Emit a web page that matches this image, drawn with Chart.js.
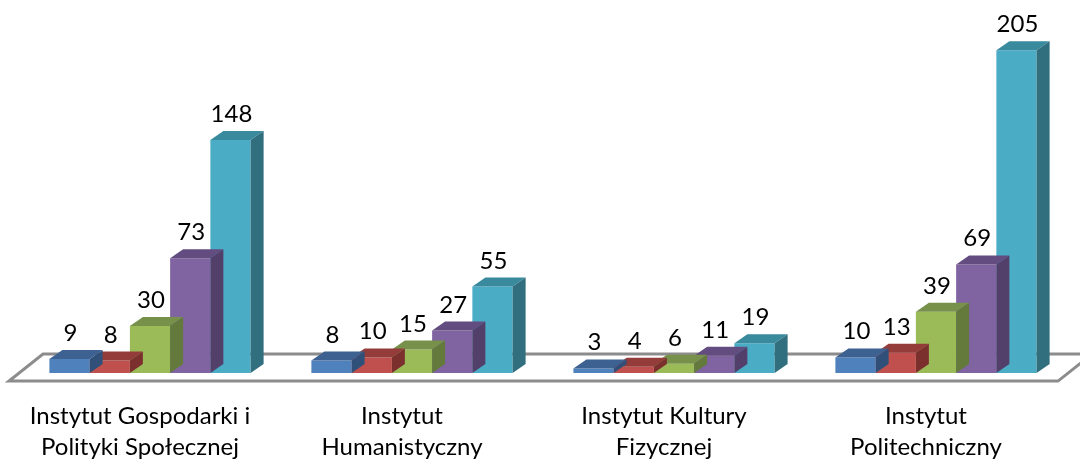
<!DOCTYPE html>
<html>
<head>
<meta charset="utf-8">
<script src="https://cdn.jsdelivr.net/npm/chart.js@4/dist/chart.umd.min.js"></script>
<style>
  html, body { margin: 0; padding: 0; background: #fff; }
  #wrap { width: 1080px; height: 459px; position: relative; }
</style>
</head>
<body>
<div id="wrap"><canvas id="chart"></canvas></div>
<script>
// categories (two-line labels)
const categories = [
  ["Instytut Gospodarki i", "Polityki Społecznej"],
  ["Instytut", "Humanistyczny"],
  ["Instytut Kultury", "Fizycznej"],
  ["Instytut", "Politechniczny"]
];

// series values, one array per colour
const series1 = [9, 8, 3, 10];
const series2 = [8, 10, 4, 13];
const series3 = [30, 15, 6, 39];
const series4 = [73, 27, 11, 69];
const series5 = [148, 55, 19, 205];

const seriesNames = ["Seria 1", "Seria 2", "Seria 3", "Seria 4", "Seria 5"];
const frontColors = ["#4f81bd", "#c0504d", "#9bbb59", "#8064a2", "#4bacc6"];
const topColors = ["#3d6191", "#943c3a", "#77914a", "#624c80", "#3a8a9e"];
const sideColors = ["#30507a", "#7c302e", "#637a3c", "#52406b", "#316e7e"];

// 3d depth offsets (px)
const DX = 13, DY = -9;
// category labels sit on the floor's front edge, a bit left of the bars
const LABEL_SHIFT = -10;

const threeD = {
  id: "threeD",
  afterLayout(chart) {
    const xs = chart.scales.x;
    if (xs._shifted) return;
    const orig = xs.drawLabels;
    xs.drawLabels = function (area) {
      this.ctx.save();
      this.ctx.translate(LABEL_SHIFT, 0);
      orig.call(this, area);
      this.ctx.restore();
    };
    xs._shifted = true;
  },
  beforeDatasetsDraw(chart) {
    const { ctx, chartArea } = chart;
    const base = chart.scales.y.getPixelForValue(0);
    const L = chartArea.left, R = chartArea.right;
    ctx.save();
    ctx.beginPath();
    ctx.moveTo(L - 10, base + 8);
    ctx.lineTo(R - 9, base + 8);
    ctx.lineTo(R + 25, base - 19);
    ctx.lineTo(L + 24, base - 19);
    ctx.closePath();
    ctx.fillStyle = "#ffffff";
    ctx.fill();
    ctx.lineWidth = 3;
    ctx.strokeStyle = "#8c8c8c";
    ctx.lineJoin = "miter";
    ctx.stroke();
    ctx.restore();
  },
  afterDatasetDraw(chart, args) {
    const { ctx } = chart;
    const i = args.index;
    ctx.save();
    args.meta.data.forEach(el => {
      const left = el.x - el.width / 2, right = el.x + el.width / 2;
      const top = el.y, base = el.base;
      // top face
      ctx.beginPath();
      ctx.moveTo(left, top);
      ctx.lineTo(right, top);
      ctx.lineTo(right + DX, top + DY);
      ctx.lineTo(left + DX, top + DY);
      ctx.closePath();
      ctx.fillStyle = topColors[i];
      ctx.fill();
      // side face
      ctx.beginPath();
      ctx.moveTo(right, top);
      ctx.lineTo(right + DX, top + DY);
      ctx.lineTo(right + DX, base + DY);
      ctx.lineTo(right, base);
      ctx.closePath();
      ctx.fillStyle = sideColors[i];
      ctx.fill();
    });
    ctx.restore();
  },
  afterDatasetsDraw(chart) {
    const { ctx } = chart;
    ctx.save();
    ctx.font = "24px Lato";
    ctx.fillStyle = "#000";
    ctx.textAlign = "center";
    ctx.textBaseline = "alphabetic";
    chart.data.datasets.forEach((ds, i) => {
      chart.getDatasetMeta(i).data.forEach((el, j) => {
        ctx.fillText(String(ds.data[j]), el.x + 1, el.y - 18);
      });
    });
    ctx.restore();
  }
};

const allSeries = [series1, series2, series3, series4, series5];

new Chart(document.getElementById("chart"), {
  type: "bar",
  data: {
    labels: categories,
    datasets: allSeries.map((vals, i) => ({
      label: seriesNames[i],
      data: vals,
      backgroundColor: frontColors[i],
      borderWidth: 0,
      barPercentage: 1,
      categoryPercentage: 0.768
    }))
  },
  options: {
    responsive: true,
    maintainAspectRatio: false,
    animation: false,
    layout: { padding: { top: 11, left: 19, right: 13, bottom: -31 } },
    plugins: {
      legend: { display: false },
      tooltip: { enabled: false }
    },
    scales: {
      x: {
        grid: { display: false, drawTicks: false },
        border: { display: false },
        ticks: {
          color: "#000",
          padding: 27,
          maxRotation: 0,
          autoSkip: false,
          font: { family: "Lato", size: 24, lineHeight: 1.31 }
        }
      },
      y: {
        display: false,
        min: 0,
        max: 230
      }
    }
  },
  plugins: [threeD]
});
</script>
</body>
</html>
